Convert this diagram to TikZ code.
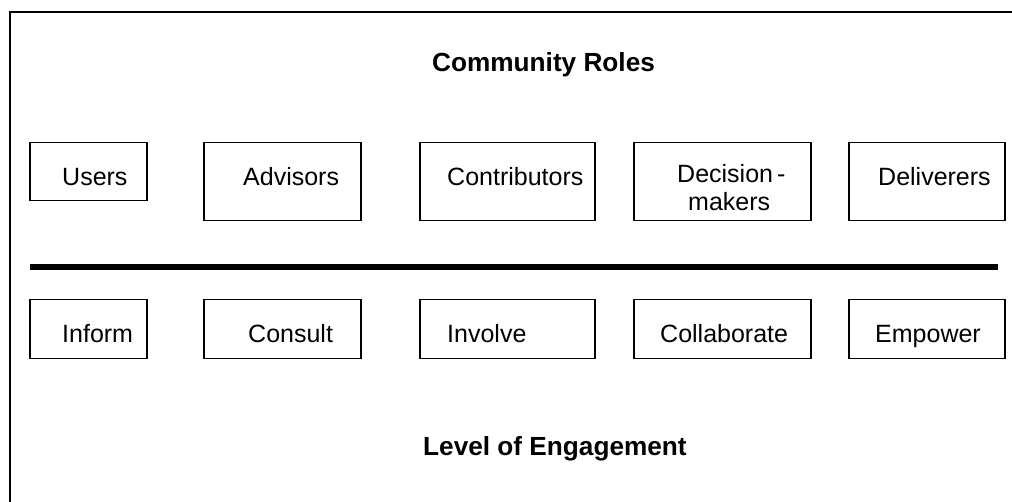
\documentclass[tikz,border=0pt]{standalone}
\usepackage{fontspec}
\setmainfont{Liberation Sans}
\usetikzlibrary{positioning}
\tikzstyle{rolebox}=[draw,line width=1.5pt,anchor=north west,inner sep=0pt,minimum height=78pt]
\tikzstyle{levelbox}=[draw,line width=1.5pt,anchor=north west,inner sep=0pt,minimum height=59pt]
\tikzstyle{lbl}=[anchor=base west,inner sep=0pt,font=\fontsize{25}{30}\selectfont]
\tikzstyle{head}=[anchor=base west,inner sep=0pt,font=\fontsize{26.2}{31}\selectfont\bfseries]

\begin{document}
\begin{tikzpicture}[x=1pt,y=-1pt]
\useasboundingbox (0,0) rectangle (1012,502);
\draw [line width=2pt] (10,12) rectangle (1040,530);

\node [head] (roles) at (432,72) {Community Roles};
\node [head] (level) at (423,455) {Level of Engagement};

\node [rolebox,minimum width=117pt,minimum height=58pt] (users) at (29,142) {};
\node [rolebox,minimum width=157pt] (advisors) at (203,142) {};
\node [rolebox,minimum width=175pt] (contrib) at (419,142) {};
\node [rolebox,minimum width=177pt] (decision) at (633,142) {};
\node [rolebox,minimum width=156pt] (deliver) at (848,142) {};

\node [lbl] (userst) at (62,186) {Users};
\node [lbl] (advisorst) at (243,186) {Advisors};
\node [lbl] (contribt) at (447,186) {Contributors};
\node [lbl] (decisiont) at (677,183) {Decision\kern4pt-};
\node [lbl] (makerst) at (688,211) {makers};
\node [lbl] (delivert) at (878,186) {Deliverers};

\coordinate (divl) at (30,267);
\coordinate (divr) at (998,267);
\draw [line width=6pt] (divl) -- (divr);

\node [levelbox,minimum width=117pt] (inform) at (29,299) {};
\node [levelbox,minimum width=157pt] (consult) at (203,299) {};
\node [levelbox,minimum width=175pt] (involve) at (419,299) {};
\node [levelbox,minimum width=177pt] (collab) at (633,299) {};
\node [levelbox,minimum width=156pt] (empower) at (848,299) {};

\node [lbl] (informt) at (62,343) {Inform};
\node [lbl] (consultt) at (248,343) {Consult};
\node [lbl] (involvet) at (447,343) {Involve};
\node [lbl] (collabt) at (660,343) {Collaborate};
\node [lbl] (empowert) at (875,343) {Empower};
\end{tikzpicture}
\end{document}
